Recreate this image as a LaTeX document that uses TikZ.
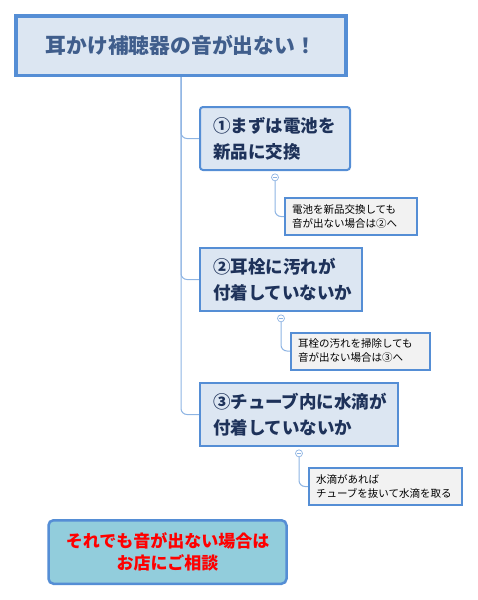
\documentclass[tikz,border=0pt]{standalone}
\usepackage{fontspec}
\setmainfont{Noto Sans CJK JP}
\usepackage{tikz}
\usepackage{xcolor}
\usetikzlibrary{positioning,backgrounds,calc}
\definecolor{frameBlue}{RGB}{85,142,213}
\definecolor{paleBlue}{RGB}{220,230,242}
\definecolor{titleInk}{RGB}{64,94,140}
\definecolor{boxInk}{RGB}{30,50,90}
\definecolor{linkBlue}{RGB}{142,180,227}
\definecolor{noteGray}{RGB}{242,242,242}
\definecolor{aquaFill}{RGB}{146,205,220}

\begin{document}
\begin{tikzpicture}[
    x=1pt, y=-1pt,
    headbox/.style={
        rectangle, draw=frameBlue, line width=3.5pt,
        fill=paleBlue, text=titleInk, font=\bfseries\fontsize{20.8}{24}\selectfont,
        align=center, minimum width=330pt, minimum height=59.5pt
    },
    checkbox/.style={
        rectangle, draw=frameBlue, line width=2pt,
        fill=paleBlue, text=boxInk, font=\bfseries\fontsize{17.5}{26}\selectfont,
        align=left, inner xsep=13pt, minimum height=63pt
    },
    notebox/.style={
        rectangle, draw=frameBlue, line width=2pt,
        fill=noteGray, text=black, font=\fontsize{10.5}{14}\selectfont,
        align=left, inner xsep=7pt, minimum height=37pt
    },
    shopbox/.style={
        rectangle, rounded corners=5pt, draw=frameBlue, line width=2.5pt,
        fill=aquaFill, text=red, font=\bfseries\fontsize{17}{21.5}\selectfont,
        align=center, minimum width=238pt, minimum height=63.5pt
    },
    fold/.style={
        circle, draw=linkBlue, line width=0.7pt, fill=white,
        minimum size=7pt, inner sep=0pt,
        path picture={\draw[linkBlue, line width=0.7pt]
            ([xshift=-1.8pt]path picture bounding box.center) --
            ([xshift=1.8pt]path picture bounding box.center);}
    },
    link/.style={draw=linkBlue, line width=1pt, rounded corners=6pt}
]
\useasboundingbox (0,0) rectangle (477,600);

\node[headbox] (title) at (181,45.5) {耳かけ補聴器の音が出ない！};

\node[checkbox, rounded corners=3pt, text width=124pt] (check1) at (275,138.5) {①まずは電池を\\新品に交換};
\node[checkbox, text width=136pt] (check2) at (281,279.5) {②耳栓に汚れが\\付着していないか};
\node[checkbox, text width=172pt] (check3) at (299,414.5) {③チューブ内に水滴が\\付着していないか};

\node[fold, below=2.5pt of check1] (fold1) {};
\node[fold, below=2.5pt of check2] (fold2) {};
\node[fold, below=2.5pt of check3] (fold3) {};

\node[notebox, text width=118pt] (note1) at (351,216.5) {電池を新品交換しても\\音が出ない場合は②へ};
\node[notebox, text width=125pt] (note2) at (360.5,351) {耳栓の汚れを掃除しても\\音が出ない場合は③へ};
\node[notebox, text width=139pt] (note3) at (385.5,486.5) {水滴があれば\\チューブを抜いて水滴を取る};

\node[shopbox] (shop) at (167.5,552) {それでも音が出ない場合は\\お店にご相談};

\begin{scope}[on background layer]
\draw[link] (title.south) |- (check1.west);
\draw[link] (title.south) |- (check2.west);
\draw[link] (title.south) |- (check3.west);
\draw[link] (fold1) |- (note1.west);
\draw[link] (fold2) |- (note2.west);
\draw[link] (fold3) |- (note3.west);
\end{scope}

\end{tikzpicture}
\end{document}
